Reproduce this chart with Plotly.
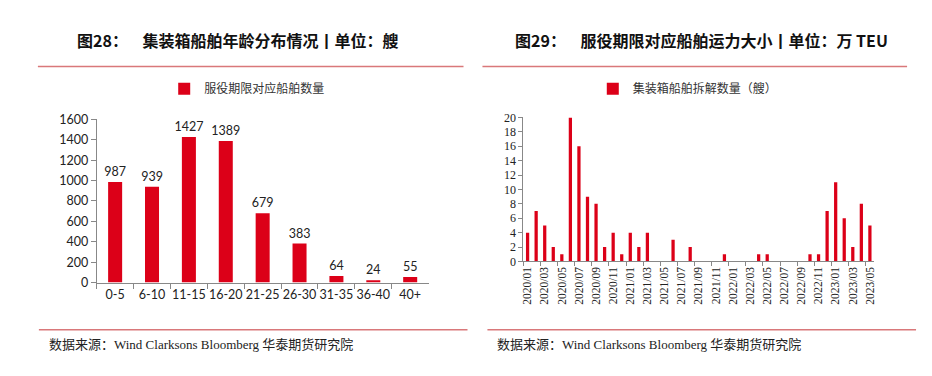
import plotly.graph_objects as go

# Left chart data
age_groups = ["0-5", "6-10", "11-15", "16-20", "21-25", "26-30", "31-35", "36-40", "40+"]
ship_counts = [987, 939, 1427, 1389, 679, 383, 64, 24, 55]

# Right chart data
months = ["2020/01", "2020/02", "2020/03", "2020/04", "2020/05", "2020/06", "2020/07", "2020/08",
          "2020/09", "2020/10", "2020/11", "2020/12", "2021/01", "2021/02", "2021/03", "2021/04",
          "2021/05", "2021/06", "2021/07", "2021/08", "2021/09", "2021/10", "2021/11", "2021/12",
          "2022/01", "2022/02", "2022/03", "2022/04", "2022/05", "2022/06", "2022/07", "2022/08",
          "2022/09", "2022/10", "2022/11", "2022/12", "2023/01", "2023/02", "2023/03", "2023/04",
          "2023/05"]
scrapped = [4, 7, 5, 2, 1, 20, 16, 9, 8, 2, 4, 1, 4, 2, 4, 0,
            0, 3, 0, 2, 0, 0, 0, 1,
            0, 0, 0, 1, 1, 0, 0, 0,
            0, 1, 1, 7, 11, 6, 2, 8,
            5]

RED = "#DC0018"
W, H = 932, 376

def px(x):
    return x / W

def py(y):
    return 1 - y / H

fig = go.Figure()

fig.add_trace(go.Bar(
    x=age_groups, y=ship_counts, name="服役期限对应船舶数量",
    marker=dict(color=RED, line=dict(width=0)),
    text=[str(v) for v in ship_counts], textposition="outside",
    constraintext="none",
    textfont=dict(family="Lato, Liberation Sans, sans-serif", size=12.5, color="#222"),
    cliponaxis=False,
    xaxis="x", yaxis="y", legend="legend",
))

fig.add_trace(go.Bar(
    x=months, y=scrapped, name="集装箱船舶拆解数量（艘）",
    marker=dict(color=RED, line=dict(width=0)),
    xaxis="x2", yaxis="y2", legend="legend2",
))

axis_font = dict(family="Lato, Liberation Sans, sans-serif", size=12.5, color="#222")
serif_font = dict(family="Liberation Serif, Times New Roman, serif", size=12, color="#222")

fig.update_layout(
    width=W, height=H,
    margin=dict(l=0, r=0, t=0, b=0),
    paper_bgcolor="white", plot_bgcolor="white",
    bargap=0.62,
    showlegend=True,
    xaxis=dict(domain=[px(95), px(428)], anchor="y", type="category",
               showline=True, linecolor="#888", linewidth=1, tickangle=0,
               ticks="outside", ticklen=5, tickcolor="#888", tickson="boundaries",
               tickfont=axis_font, showgrid=False, fixedrange=True),
    yaxis=dict(domain=[py(286), py(116)], anchor="x", range=[0, 1600], dtick=200,
               showline=True, linecolor="#888", linewidth=1,
               ticks="outside", ticklen=5, tickcolor="#888",
               tickfont=axis_font, showgrid=False, zeroline=False),
    xaxis2=dict(domain=[px(523), px(875)], anchor="y2", type="category",
                showline=True, linecolor="#888", linewidth=1,
                tickmode="array", tickvals=months[::2], ticktext=months[::2],
                tickangle=-90, ticks="outside", ticklen=4, tickcolor="#888",
                tickson="boundaries",
                tickfont=dict(family="Liberation Serif, Times New Roman, serif", size=11.5, color="#222"),
                showgrid=False),
    yaxis2=dict(domain=[py(264), py(114)], anchor="x2", range=[0, 20], dtick=2,
                showline=True, linecolor="#888", linewidth=1,
                ticks="outside", ticklen=4, tickcolor="#888",
                tickfont=serif_font, showgrid=False, zeroline=False),
    legend=dict(x=px(246), y=py(84), xanchor="center", yanchor="middle",
                orientation="h", bgcolor="rgba(0,0,0,0)",
                font=dict(family="Noto Sans CJK SC", size=12, color="#333"),
                itemwidth=30),
    legend2=dict(x=px(688), y=py(84), xanchor="center", yanchor="middle",
                 orientation="h", bgcolor="rgba(0,0,0,0)",
                 font=dict(family="Noto Sans CJK SC", size=12, color="#333"),
                 itemwidth=30),
)

title_font = dict(family="Noto Sans CJK SC", size=16, color="#111")
fig.add_annotation(x=px(73), y=py(33), xref="paper", yref="paper", xanchor="left", yanchor="middle",
                   text="<b>图28：    集装箱船舶年龄分布情况丨单位：艘</b>", showarrow=False, font=title_font)
fig.add_annotation(x=px(513), y=py(33), xref="paper", yref="paper", xanchor="left", yanchor="middle",
                   text="<b>图29：    服役期限对应船舶运力大小丨单位：万 TEU</b>", showarrow=False, font=title_font)

line_color = "#D9787A"
for x0, x1 in [(36, 463), (482, 908)]:
    fig.add_shape(type="line", xref="paper", yref="paper", x0=px(x0), x1=px(x1), y0=py(61), y1=py(61),
                  line=dict(color=line_color, width=1.5))
for x0, x1 in [(37, 467), (487, 917)]:
    fig.add_shape(type="line", xref="paper", yref="paper", x0=px(x0), x1=px(x1), y0=py(335), y1=py(335),
                  line=dict(color=line_color, width=1.5))

src_font = dict(family="Liberation Serif, Noto Sans CJK SC, serif", size=13, color="#222")
fig.add_annotation(x=px(45), y=py(351), xref="paper", yref="paper", xanchor="left", yanchor="middle",
                   text="数据来源：Wind Clarksons Bloomberg 华泰期货研究院", showarrow=False, font=src_font)
fig.add_annotation(x=px(495), y=py(351), xref="paper", yref="paper", xanchor="left", yanchor="middle",
                   text="数据来源：Wind Clarksons Bloomberg 华泰期货研究院", showarrow=False, font=src_font)

fig.write_html("out.html", config={"displayModeBar": False},
               post_script="document.body.style.margin='0';document.body.style.overflow='hidden';")
